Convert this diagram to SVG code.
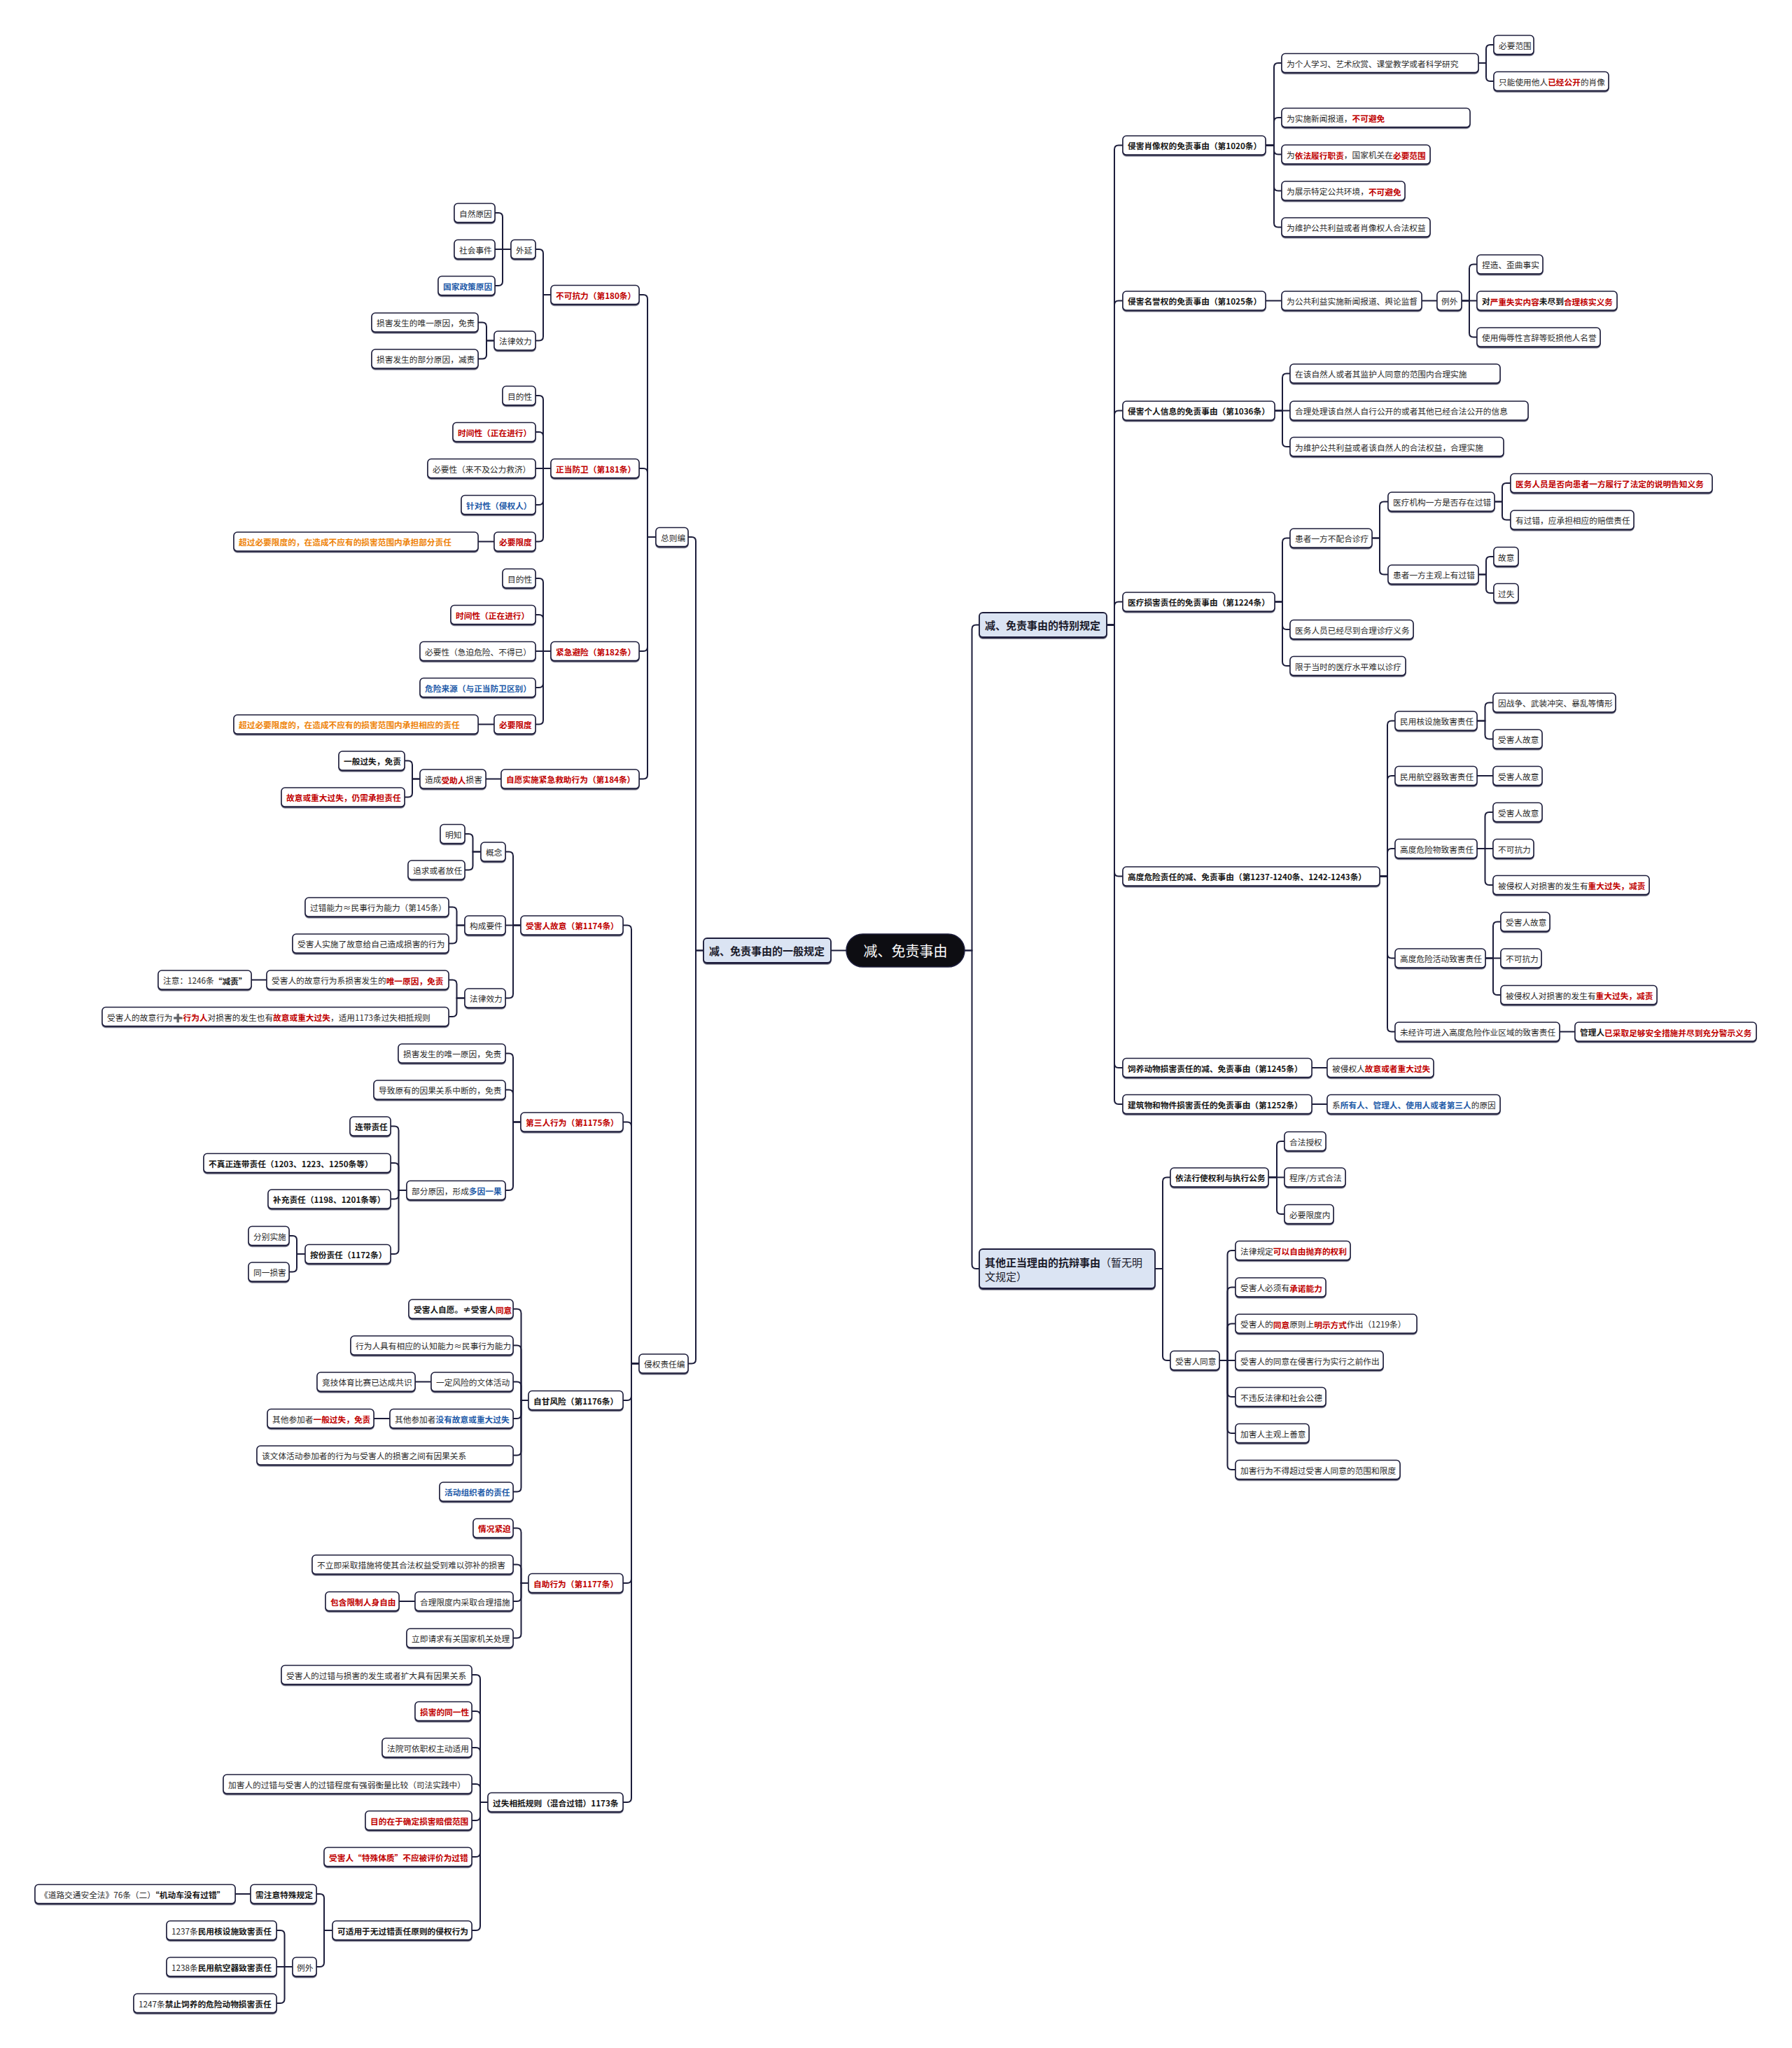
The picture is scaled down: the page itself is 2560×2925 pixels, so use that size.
<svg xmlns="http://www.w3.org/2000/svg" width="2560" height="2925" viewBox="0 0 2560 2925">
<defs>
<filter id="sh" x="-5%" y="-20%" width="110%" height="150%"><feDropShadow dx="0" dy="1.5" stdDeviation="0.3" flood-color="#1c1d3b" flood-opacity="0.9"/></filter>
<style>
.n{fill:#fff;stroke:#1c1d3b;stroke-width:1.5;filter:url(#sh)}
.m{fill:#dbe4f3;stroke:#1c1d3b;stroke-width:1.8;filter:url(#sh)}
text{font-family:"Noto Sans CJK SC","Noto Sans","DejaVu Sans",sans-serif;font-size:11.7px;fill:#2a2a2a;dominant-baseline:central}
.k{font-weight:bold;fill:#151515}
.r{font-weight:bold;fill:#c00000}
.u{font-weight:bold;fill:#1e5aa8}
.o{font-weight:bold;fill:#ee8208}
.mt{font-size:15px;font-weight:bold;fill:#1a1a2a}
.mn{font-weight:normal}
.c path{fill:none;stroke:#1c1d3b;stroke-width:2}
</style>
</defs>
<rect width="2560" height="2925" fill="#fff"/>
<g class="c" id="connectors">
<path d="M1209 1357.5H1187"/>
<path d="M1378 1357.5H1388.5V898.5Q1388.5 892.5 1394.5 892.5H1399"/>
<path d="M1378 1357.5H1388.5V1806Q1388.5 1812 1394.5 1812H1399"/>
<path d="M1581 892.5H1592V213.5Q1592 207.5 1598 207.5H1604"/>
<path d="M1581 892.5H1592V435.5Q1592 429.5 1598 429.5H1604"/>
<path d="M1581 892.5H1592V592.5Q1592 586.5 1598 586.5H1604"/>
<path d="M1581 892.5H1592V865.5Q1592 859.5 1598 859.5H1604"/>
<path d="M1581 892.5H1592V1245.5Q1592 1251.5 1598 1251.5H1604"/>
<path d="M1581 892.5H1592V1519Q1592 1525 1598 1525H1604"/>
<path d="M1581 892.5H1592V1571Q1592 1577 1598 1577H1604"/>
<path d="M1808 207.5H1820V96Q1820 90 1826 90H1831"/>
<path d="M1808 207.5H1820V174Q1820 168 1826 168H1831"/>
<path d="M1808 207.5H1820V214.5Q1820 220.5 1826 220.5H1831"/>
<path d="M1808 207.5H1820V266.5Q1820 272.5 1826 272.5H1831"/>
<path d="M1808 207.5H1820V318.5Q1820 324.5 1826 324.5H1831"/>
<path d="M2112 90H2123V70Q2123 64 2129 64H2134"/>
<path d="M2112 90H2123V110Q2123 116 2129 116H2134"/>
<path d="M1808 429.5H1831"/>
<path d="M2031 429.5H2053"/>
<path d="M2088 429.5H2099V383.5Q2099 377.5 2105 377.5H2110"/>
<path d="M2088 429.5H2110"/>
<path d="M2088 429.5H2099V475.5Q2099 481.5 2105 481.5H2110"/>
<path d="M1821 586.5H1832V539.5Q1832 533.5 1838 533.5H1843"/>
<path d="M1821 586.5H1843"/>
<path d="M1821 586.5H1832V632Q1832 638 1838 638H1843"/>
<path d="M1821 859.5H1832V774.5Q1832 768.5 1838 768.5H1843"/>
<path d="M1821 859.5H1832V893Q1832 899 1838 899H1843"/>
<path d="M1821 859.5H1832V945Q1832 951 1838 951H1843"/>
<path d="M1960 768.5H1971V722.5Q1971 716.5 1977 716.5H1983"/>
<path d="M1960 768.5H1971V814.5Q1971 820.5 1977 820.5H1983"/>
<path d="M2135 716.5H2146V696Q2146 690 2152 690H2158"/>
<path d="M2135 716.5H2146V736.5Q2146 742.5 2152 742.5H2158"/>
<path d="M2112 820.5H2123V801Q2123 795 2129 795H2134"/>
<path d="M2112 820.5H2123V841Q2123 847 2129 847H2134"/>
<path d="M1971 1251.5H1982V1035.5Q1982 1029.5 1988 1029.5H1993"/>
<path d="M1971 1251.5H1982V1114Q1982 1108 1988 1108H1993"/>
<path d="M1971 1251.5H1982V1218Q1982 1212 1988 1212H1993"/>
<path d="M1971 1251.5H1982V1362.5Q1982 1368.5 1988 1368.5H1993"/>
<path d="M1971 1251.5H1982V1467.5Q1982 1473.5 1988 1473.5H1993"/>
<path d="M2110 1029.5H2121.5V1009.5Q2121.5 1003.5 2127.5 1003.5H2133"/>
<path d="M2110 1029.5H2121.5V1049.5Q2121.5 1055.5 2127.5 1055.5H2133"/>
<path d="M2110 1108H2133"/>
<path d="M2110 1212H2121.5V1166Q2121.5 1160 2127.5 1160H2133"/>
<path d="M2110 1212H2133"/>
<path d="M2110 1212H2121.5V1258Q2121.5 1264 2127.5 1264H2133"/>
<path d="M2122 1368.5H2133V1322.5Q2133 1316.5 2139 1316.5H2144"/>
<path d="M2122 1368.5H2144"/>
<path d="M2122 1368.5H2133V1415Q2133 1421 2139 1421H2144"/>
<path d="M2228 1473.5H2250"/>
<path d="M1874 1525H1896"/>
<path d="M1874 1577H1896"/>
<path d="M1650 1812H1661V1687.5Q1661 1681.5 1667 1681.5H1672"/>
<path d="M1650 1812H1661V1937Q1661 1943 1667 1943H1672"/>
<path d="M1812 1681.5H1824V1636Q1824 1630 1830 1630H1835"/>
<path d="M1812 1681.5H1835"/>
<path d="M1812 1681.5H1824V1728Q1824 1734 1830 1734H1835"/>
<path d="M1742 1943H1753.5V1792Q1753.5 1786 1759.5 1786H1765"/>
<path d="M1742 1943H1753.5V1844.5Q1753.5 1838.5 1759.5 1838.5H1765"/>
<path d="M1742 1943H1753.5V1896.5Q1753.5 1890.5 1759.5 1890.5H1765"/>
<path d="M1742 1943H1765"/>
<path d="M1742 1943H1753.5V1989Q1753.5 1995 1759.5 1995H1765"/>
<path d="M1742 1943H1753.5V2041Q1753.5 2047 1759.5 2047H1765"/>
<path d="M1742 1943H1753.5V2093Q1753.5 2099 1759.5 2099H1765"/>
<path d="M1005 1357.5H994V773Q994 767 988 767H983"/>
<path d="M1005 1357.5H994V1941.5Q994 1947.5 988 1947.5H983"/>
<path d="M937 767H925V427Q925 421 919 421H913"/>
<path d="M937 767H925V675Q925 669 919 669H913"/>
<path d="M937 767H925V924Q925 930 919 930H913"/>
<path d="M937 767H925V1106.5Q925 1112.5 919 1112.5H913"/>
<path d="M787 421H776V362Q776 356 770 356H765"/>
<path d="M787 421H776V480.5Q776 486.5 770 486.5H765"/>
<path d="M730 356H718V310Q718 304 712 304H707"/>
<path d="M730 356H707"/>
<path d="M730 356H718V402Q718 408 712 408H707"/>
<path d="M706 486.5H695V466.5Q695 460.5 689 460.5H683"/>
<path d="M706 486.5H695V506.5Q695 512.5 689 512.5H683"/>
<path d="M787 669H776V571Q776 565 770 565H765"/>
<path d="M787 669H776V623Q776 617 770 617H765"/>
<path d="M787 669H765"/>
<path d="M787 669H776V715Q776 721 770 721H765"/>
<path d="M787 669H776V767.5Q776 773.5 770 773.5H765"/>
<path d="M706 773.5H683"/>
<path d="M787 930H776V832Q776 826 770 826H765"/>
<path d="M787 930H776V884Q776 878 770 878H765"/>
<path d="M787 930H765"/>
<path d="M787 930H776V976Q776 982 770 982H765"/>
<path d="M787 930H776V1028.5Q776 1034.5 770 1034.5H765"/>
<path d="M706 1034.5H683"/>
<path d="M716 1112.5H694"/>
<path d="M600 1112.5H589V1092.5Q589 1086.5 583 1086.5H578"/>
<path d="M600 1112.5H589V1132.5Q589 1138.5 583 1138.5H578"/>
<path d="M913 1947.5H902V1327.5Q902 1321.5 896 1321.5H890"/>
<path d="M913 1947.5H902V1608.5Q902 1602.5 896 1602.5H890"/>
<path d="M913 1947.5H902V1994Q902 2000 896 2000H890"/>
<path d="M913 1947.5H902V2255Q902 2261 896 2261H890"/>
<path d="M913 1947.5H902V2568Q902 2574 896 2574H890"/>
<path d="M744 1321.5H733V1222.5Q733 1216.5 727 1216.5H722"/>
<path d="M744 1321.5H722"/>
<path d="M744 1321.5H733V1419.5Q733 1425.5 727 1425.5H722"/>
<path d="M687 1216.5H675.5V1197Q675.5 1191 669.5 1191H664"/>
<path d="M687 1216.5H675.5V1236.5Q675.5 1242.5 669.5 1242.5H664"/>
<path d="M664 1321.5H652.5V1301.5Q652.5 1295.5 646.5 1295.5H641"/>
<path d="M664 1321.5H652.5V1341.5Q652.5 1347.5 646.5 1347.5H641"/>
<path d="M664 1425.5H652.5V1405.5Q652.5 1399.5 646.5 1399.5H641"/>
<path d="M664 1425.5H652.5V1446Q652.5 1452 646.5 1452H641"/>
<path d="M381 1399.5H359"/>
<path d="M744 1602.5H733V1510.5Q733 1504.5 727 1504.5H722"/>
<path d="M744 1602.5H733V1562.5Q733 1556.5 727 1556.5H722"/>
<path d="M744 1602.5H733V1694Q733 1700 727 1700H722"/>
<path d="M581 1700H569.5V1614.5Q569.5 1608.5 563.5 1608.5H558"/>
<path d="M581 1700H569.5V1667Q569.5 1661 563.5 1661H558"/>
<path d="M581 1700H569.5V1706.5Q569.5 1712.5 563.5 1712.5H558"/>
<path d="M581 1700H569.5V1785Q569.5 1791 563.5 1791H558"/>
<path d="M436 1791H424V1771Q424 1765 418 1765H413"/>
<path d="M436 1791H424V1810.5Q424 1816.5 418 1816.5H413"/>
<path d="M755 2000H744.5V1875.5Q744.5 1869.5 738.5 1869.5H733"/>
<path d="M755 2000H744.5V1927.5Q744.5 1921.5 738.5 1921.5H733"/>
<path d="M755 2000H744.5V1979.5Q744.5 1973.5 738.5 1973.5H733"/>
<path d="M755 2000H744.5V2020Q744.5 2026 738.5 2026H733"/>
<path d="M755 2000H744.5V2072.5Q744.5 2078.5 738.5 2078.5H733"/>
<path d="M755 2000H744.5V2124.5Q744.5 2130.5 738.5 2130.5H733"/>
<path d="M616 1973.5H593"/>
<path d="M557 2026H534"/>
<path d="M755 2261H744.5V2188.5Q744.5 2182.5 738.5 2182.5H733"/>
<path d="M755 2261H744.5V2240.5Q744.5 2234.5 738.5 2234.5H733"/>
<path d="M755 2261H744.5V2281Q744.5 2287 738.5 2287H733"/>
<path d="M755 2261H744.5V2333.5Q744.5 2339.5 738.5 2339.5H733"/>
<path d="M593 2287H570"/>
<path d="M697 2574H686V2398Q686 2392 680 2392H674"/>
<path d="M697 2574H686V2450Q686 2444 680 2444H674"/>
<path d="M697 2574H686V2502Q686 2496 680 2496H674"/>
<path d="M697 2574H686V2554Q686 2548 680 2548H674"/>
<path d="M697 2574H686V2594Q686 2600 680 2600H674"/>
<path d="M697 2574H686V2646Q686 2652 680 2652H674"/>
<path d="M697 2574H686V2751Q686 2757 680 2757H674"/>
<path d="M475 2757H463V2711Q463 2705 457 2705H452"/>
<path d="M475 2757H463V2803Q463 2809 457 2809H452"/>
<path d="M358 2705H336"/>
<path d="M418 2809H406.5V2763Q406.5 2757 400.5 2757H395"/>
<path d="M418 2809H395"/>
<path d="M418 2809H406.5V2855Q406.5 2861 400.5 2861H395"/>
</g>
<g id="root"><rect x="1209" y="1334" width="169" height="47" rx="23.5" fill="#0d0d12" stroke="#1c1d3b" stroke-width="1.5"/><text x="1293.5" y="1357.5" text-anchor="middle" style="font-size:20px;fill:#fff">减、免责事由</text></g>
<g id="main-general"><rect class="m" x="1005" y="1340" width="182" height="35" rx="5"/><text class="mt" x="1013" y="1357.5">减、免责事由的一般规定</text></g>
<g id="main-special"><rect class="m" x="1399" y="875" width="182" height="35" rx="5"/><text class="mt" x="1407" y="892.5">减、免责事由的特别规定</text></g>
<g id="main-other"><rect class="m" x="1399" y="1784" width="251" height="56" rx="5"/><text class="mt" x="1407" y="1802">其他正当理由的抗辩事由<tspan class="mn">（暂无明</tspan></text><text class="mt" x="1407" y="1822"><tspan class="mn">文规定）</tspan></text></g>
<g id="L1"><rect class="n" x="937" y="753.5" width="46" height="27" rx="5"/><text x="944" y="767">总则编</text></g>
<g id="L2"><rect class="n" x="913" y="1934" width="70" height="27" rx="5"/><text x="920" y="1947.5">侵权责任编</text></g>
<g id="L3"><rect class="n" x="787" y="407.5" width="126" height="27" rx="5"/><text class="r" x="794" y="421">不可抗力（第180条）</text></g>
<g id="L4"><rect class="n" x="787" y="655.5" width="126" height="27" rx="5"/><text class="r" x="794" y="669">正当防卫（第181条）</text></g>
<g id="L5"><rect class="n" x="787" y="916.5" width="126" height="27" rx="5"/><text class="r" x="794" y="930">紧急避险（第182条）</text></g>
<g id="L6"><rect class="n" x="716" y="1099" width="197" height="27" rx="5"/><text class="r" x="723" y="1112.5">自愿实施紧急救助行为（第184条）</text></g>
<g id="L7"><rect class="n" x="730" y="342.5" width="35" height="27" rx="5"/><text x="737" y="356">外延</text></g>
<g id="L8"><rect class="n" x="706" y="473" width="59" height="27" rx="5"/><text x="713" y="486.5">法律效力</text></g>
<g id="L9"><rect class="n" x="649" y="290.5" width="58" height="27" rx="5"/><text x="656" y="304">自然原因</text></g>
<g id="L10"><rect class="n" x="649" y="342.5" width="58" height="27" rx="5"/><text x="656" y="356">社会事件</text></g>
<g id="L11"><rect class="n" x="626" y="394.5" width="81" height="27" rx="5"/><text class="u" x="633" y="408">国家政策原因</text></g>
<g id="L12"><rect class="n" x="531" y="447" width="152" height="27" rx="5"/><text x="538" y="460.5">损害发生的唯一原因，免责</text></g>
<g id="L13"><rect class="n" x="531" y="499" width="152" height="27" rx="5"/><text x="538" y="512.5">损害发生的部分原因，减责</text></g>
<g id="L14"><rect class="n" x="718" y="551.5" width="47" height="27" rx="5"/><text x="725" y="565">目的性</text></g>
<g id="L15"><rect class="n" x="647" y="603.5" width="118" height="27" rx="5"/><text class="r" x="654" y="617">时间性（正在进行）</text></g>
<g id="L16"><rect class="n" x="611" y="655.5" width="154" height="27" rx="5"/><text x="618" y="669">必要性（来不及公力救济）</text></g>
<g id="L17"><rect class="n" x="659" y="707.5" width="106" height="27" rx="5"/><text class="u" x="666" y="721">针对性（侵权人）</text></g>
<g id="L18"><rect class="n" x="706" y="760" width="59" height="27" rx="5"/><text class="r" x="713" y="773.5">必要限度</text></g>
<g id="L19"><rect class="n" x="334" y="760" width="349" height="27" rx="5"/><text class="o" x="341" y="773.5">超过必要限度的，在造成不应有的损害范围内承担部分责任</text></g>
<g id="L20"><rect class="n" x="718" y="812.5" width="47" height="27" rx="5"/><text x="725" y="826">目的性</text></g>
<g id="L21"><rect class="n" x="644" y="864.5" width="121" height="27" rx="5"/><text class="r" x="651" y="878">时间性（正在进行）</text></g>
<g id="L22"><rect class="n" x="600" y="916.5" width="165" height="27" rx="5"/><text x="607" y="930">必要性（急迫危险、不得已）</text></g>
<g id="L23"><rect class="n" x="600" y="968.5" width="165" height="27" rx="5"/><text class="u" x="607" y="982">危险来源（与正当防卫区别）</text></g>
<g id="L24"><rect class="n" x="706" y="1021" width="59" height="27" rx="5"/><text class="r" x="713" y="1034.5">必要限度</text></g>
<g id="L25"><rect class="n" x="334" y="1021" width="349" height="27" rx="5"/><text class="o" x="341" y="1034.5">超过必要限度的，在造成不应有的损害范围内承担相应的责任</text></g>
<g id="L26"><rect class="n" x="600" y="1099" width="94" height="27" rx="5"/><text x="607" y="1112.5">造成<tspan class="r">受助人</tspan>损害</text></g>
<g id="L27"><rect class="n" x="484" y="1073" width="94" height="27" rx="5"/><text class="k" x="491" y="1086.5">一般过失，免责</text></g>
<g id="L28"><rect class="n" x="402" y="1125" width="176" height="27" rx="5"/><text class="r" x="409" y="1138.5">故意或重大过失，仍需承担责任</text></g>
<g id="L29"><rect class="n" x="744" y="1308" width="146" height="27" rx="5"/><text class="r" x="751" y="1321.5">受害人故意（第1174条）</text></g>
<g id="L30"><rect class="n" x="744" y="1589" width="146" height="27" rx="5"/><text class="r" x="751" y="1602.5">第三人行为（第1175条）</text></g>
<g id="L31"><rect class="n" x="755" y="1986.5" width="135" height="27" rx="5"/><text class="k" x="762" y="2000">自甘风险（第1176条）</text></g>
<g id="L32"><rect class="n" x="755" y="2247.5" width="135" height="27" rx="5"/><text class="r" x="762" y="2261">自助行为（第1177条）</text></g>
<g id="L33"><rect class="n" x="697" y="2560.5" width="193" height="27" rx="5"/><text class="k" x="704" y="2574">过失相抵规则（混合过错）1173条</text></g>
<g id="L34"><rect class="n" x="687" y="1203" width="35" height="27" rx="5"/><text x="694" y="1216.5">概念</text></g>
<g id="L35"><rect class="n" x="664" y="1308" width="58" height="27" rx="5"/><text x="671" y="1321.5">构成要件</text></g>
<g id="L36"><rect class="n" x="664" y="1412" width="58" height="27" rx="5"/><text x="671" y="1425.5">法律效力</text></g>
<g id="L37"><rect class="n" x="629" y="1177.5" width="35" height="27" rx="5"/><text x="636" y="1191">明知</text></g>
<g id="L38"><rect class="n" x="583" y="1229" width="81" height="27" rx="5"/><text x="590" y="1242.5">追求或者放任</text></g>
<g id="L39"><rect class="n" x="436" y="1282" width="205" height="27" rx="5"/><text x="443" y="1295.5">过错能力≈民事行为能力（第145条）</text></g>
<g id="L40"><rect class="n" x="418" y="1334" width="223" height="27" rx="5"/><text x="425" y="1347.5">受害人实施了故意给自己造成损害的行为</text></g>
<g id="L41"><rect class="n" x="381" y="1386" width="260" height="27" rx="5"/><text x="388" y="1399.5">受害人的故意行为系损害发生的<tspan class="r">唯一原因，免责</tspan></text></g>
<g id="L42"><rect class="n" x="226" y="1386" width="133" height="27" rx="5"/><text x="233" y="1399.5">注意：1246条<tspan class="k">“减责”</tspan></text></g>
<g id="L43"><rect class="n" x="146" y="1438.5" width="495" height="27" rx="5"/><text x="153" y="1452">受害人的故意行为<tspan class="k">➕</tspan><tspan class="r">行为人</tspan>对损害的发生也有<tspan class="r">故意或重大过失</tspan>，适用1173条过失相抵规则</text></g>
<g id="L44"><rect class="n" x="569" y="1491" width="153" height="27" rx="5"/><text x="576" y="1504.5">损害发生的唯一原因，免责</text></g>
<g id="L45"><rect class="n" x="534" y="1543" width="188" height="27" rx="5"/><text x="541" y="1556.5">导致原有的因果关系中断的，免责</text></g>
<g id="L46"><rect class="n" x="581" y="1686.5" width="141" height="27" rx="5"/><text x="588" y="1700">部分原因，形成<tspan class="u">多因一果</tspan></text></g>
<g id="L47"><rect class="n" x="500" y="1595" width="58" height="27" rx="5"/><text class="k" x="507" y="1608.5">连带责任</text></g>
<g id="L48"><rect class="n" x="291" y="1647.5" width="267" height="27" rx="5"/><text class="k" x="298" y="1661">不真正连带责任（1203、1223、1250条等）</text></g>
<g id="L49"><rect class="n" x="383" y="1699" width="175" height="27" rx="5"/><text class="k" x="390" y="1712.5">补充责任（1198、1201条等）</text></g>
<g id="L50"><rect class="n" x="436" y="1777.5" width="122" height="27" rx="5"/><text class="k" x="443" y="1791">按份责任（1172条）</text></g>
<g id="L51"><rect class="n" x="355" y="1751.5" width="58" height="27" rx="5"/><text x="362" y="1765">分别实施</text></g>
<g id="L52"><rect class="n" x="355" y="1803" width="58" height="27" rx="5"/><text x="362" y="1816.5">同一损害</text></g>
<g id="L53"><rect class="n" x="584" y="1856" width="149" height="27" rx="5"/><text class="k" x="591" y="1869.5">受害人自愿。≠受害人<tspan class="r">同意</tspan></text></g>
<g id="L54"><rect class="n" x="501" y="1908" width="232" height="27" rx="5"/><text x="508" y="1921.5">行为人具有相应的认知能力≈民事行为能力</text></g>
<g id="L55"><rect class="n" x="616" y="1960" width="117" height="27" rx="5"/><text x="623" y="1973.5">一定风险的文体活动</text></g>
<g id="L56"><rect class="n" x="453" y="1960" width="140" height="27" rx="5"/><text x="460" y="1973.5">竞技体育比赛已达成共识</text></g>
<g id="L57"><rect class="n" x="557" y="2012.5" width="176" height="27" rx="5"/><text x="564" y="2026">其他参加者<tspan class="u">没有故意或重大过失</tspan></text></g>
<g id="L58"><rect class="n" x="382" y="2012.5" width="152" height="27" rx="5"/><text x="389" y="2026">其他参加者<tspan class="r">一般过失，免责</tspan></text></g>
<g id="L59"><rect class="n" x="367" y="2065" width="366" height="27" rx="5"/><text x="374" y="2078.5">该文体活动参加者的行为与受害人的损害之间有因果关系</text></g>
<g id="L60"><rect class="n" x="628" y="2117" width="105" height="27" rx="5"/><text class="u" x="635" y="2130.5">活动组织者的责任</text></g>
<g id="L61"><rect class="n" x="676" y="2169" width="57" height="27" rx="5"/><text class="r" x="683" y="2182.5">情况紧迫</text></g>
<g id="L62"><rect class="n" x="446" y="2221" width="287" height="27" rx="5"/><text x="453" y="2234.5">不立即采取措施将使其合法权益受到难以弥补的损害</text></g>
<g id="L63"><rect class="n" x="593" y="2273.5" width="140" height="27" rx="5"/><text x="600" y="2287">合理限度内采取合理措施</text></g>
<g id="L64"><rect class="n" x="465" y="2273.5" width="105" height="27" rx="5"/><text class="r" x="472" y="2287">包含限制人身自由</text></g>
<g id="L65"><rect class="n" x="581" y="2326" width="152" height="27" rx="5"/><text x="588" y="2339.5">立即请求有关国家机关处理</text></g>
<g id="L66"><rect class="n" x="402" y="2378.5" width="272" height="27" rx="5"/><text x="409" y="2392">受害人的过错与损害的发生或者扩大具有因果关系</text></g>
<g id="L67"><rect class="n" x="593" y="2430.5" width="81" height="27" rx="5"/><text class="r" x="600" y="2444">损害的同一性</text></g>
<g id="L68"><rect class="n" x="546" y="2482.5" width="128" height="27" rx="5"/><text x="553" y="2496">法院可依职权主动适用</text></g>
<g id="L69"><rect class="n" x="319" y="2534.5" width="355" height="27" rx="5"/><text x="326" y="2548">加害人的过错与受害人的过错程度有强弱衡量比较（司法实践中）</text></g>
<g id="L70"><rect class="n" x="522" y="2586.5" width="152" height="27" rx="5"/><text class="r" x="529" y="2600">目的在于确定损害赔偿范围</text></g>
<g id="L71"><rect class="n" x="463" y="2638.5" width="211" height="27" rx="5"/><text class="r" x="470" y="2652">受害人“特殊体质”不应被评价为过错</text></g>
<g id="L72"><rect class="n" x="475" y="2743.5" width="199" height="27" rx="5"/><text class="k" x="482" y="2757">可适用于无过错责任原则的侵权行为</text></g>
<g id="L73"><rect class="n" x="358" y="2691.5" width="94" height="27" rx="5"/><text class="k" x="365" y="2705">需注意特殊规定</text></g>
<g id="L74"><rect class="n" x="50" y="2691.5" width="286" height="27" rx="5"/><text x="57" y="2705">《道路交通安全法》76条（二）<tspan class="k">“机动车没有过错”</tspan></text></g>
<g id="L75"><rect class="n" x="418" y="2795.5" width="34" height="27" rx="5"/><text x="424" y="2809">例外</text></g>
<g id="L76"><rect class="n" x="238" y="2743.5" width="157" height="27" rx="5"/><text x="245" y="2757">1237条<tspan class="k">民用核设施致害责任</tspan></text></g>
<g id="L77"><rect class="n" x="238" y="2795.5" width="157" height="27" rx="5"/><text x="245" y="2809">1238条<tspan class="k">民用航空器致害责任</tspan></text></g>
<g id="L78"><rect class="n" x="191" y="2847.5" width="204" height="27" rx="5"/><text x="198" y="2861">1247条<tspan class="k">禁止饲养的危险动物损害责任</tspan></text></g>
<g id="R1"><rect class="n" x="1604" y="194" width="204" height="27" rx="5"/><text class="k" x="1611" y="207.5">侵害肖像权的免责事由（第1020条）</text></g>
<g id="R2"><rect class="n" x="1604" y="416" width="204" height="27" rx="5"/><text class="k" x="1611" y="429.5">侵害名誉权的免责事由（第1025条）</text></g>
<g id="R3"><rect class="n" x="1604" y="573" width="217" height="27" rx="5"/><text class="k" x="1611" y="586.5">侵害个人信息的免责事由（第1036条）</text></g>
<g id="R4"><rect class="n" x="1604" y="846" width="217" height="27" rx="5"/><text class="k" x="1611" y="859.5">医疗损害责任的免责事由（第1224条）</text></g>
<g id="R5"><rect class="n" x="1604" y="1238" width="367" height="27" rx="5"/><text class="k" x="1611" y="1251.5">高度危险责任的减、免责事由（第1237-1240条、1242-1243条）</text></g>
<g id="R6"><rect class="n" x="1604" y="1511.5" width="270" height="27" rx="5"/><text class="k" x="1611" y="1525">饲养动物损害责任的减、免责事由（第1245条）</text></g>
<g id="R7"><rect class="n" x="1604" y="1563.5" width="270" height="27" rx="5"/><text class="k" x="1611" y="1577">建筑物和物件损害责任的免责事由（第1252条）</text></g>
<g id="R8"><rect class="n" x="1831" y="76.5" width="281" height="27" rx="5"/><text x="1838" y="90">为个人学习、艺术欣赏、课堂教学或者科学研究</text></g>
<g id="R9"><rect class="n" x="2134" y="50.5" width="57" height="27" rx="5"/><text x="2141" y="64">必要范围</text></g>
<g id="R10"><rect class="n" x="2134" y="102.5" width="164" height="27" rx="5"/><text x="2141" y="116">只能使用他人<tspan class="r">已经公开</tspan>的肖像</text></g>
<g id="R11"><rect class="n" x="1831" y="154.5" width="269" height="27" rx="5"/><text x="1838" y="168">为实施新闻报道，<tspan class="r">不可避免</tspan></text></g>
<g id="R12"><rect class="n" x="1831" y="207" width="212" height="27" rx="5"/><text x="1838" y="220.5">为<tspan class="r">依法履行职责</tspan>，国家机关在<tspan class="r">必要范围</tspan></text></g>
<g id="R13"><rect class="n" x="1831" y="259" width="176" height="27" rx="5"/><text x="1838" y="272.5">为展示特定公共环境，<tspan class="r">不可避免</tspan></text></g>
<g id="R14"><rect class="n" x="1831" y="311" width="212" height="27" rx="5"/><text x="1838" y="324.5">为维护公共利益或者肖像权人合法权益</text></g>
<g id="R15"><rect class="n" x="1831" y="416" width="200" height="27" rx="5"/><text x="1838" y="429.5">为公共利益实施新闻报道、舆论监督</text></g>
<g id="R16"><rect class="n" x="2053" y="416" width="35" height="27" rx="5"/><text x="2059" y="429.5">例外</text></g>
<g id="R17"><rect class="n" x="2110" y="364" width="94" height="27" rx="5"/><text x="2117" y="377.5">捏造、歪曲事实</text></g>
<g id="R18"><rect class="n" x="2110" y="416" width="200" height="27" rx="5"/><text class="k" x="2117" y="429.5">对<tspan class="r">严重失实内容</tspan>未尽到<tspan class="r">合理核实义务</tspan></text></g>
<g id="R19"><rect class="n" x="2110" y="468" width="176" height="27" rx="5"/><text x="2117" y="481.5">使用侮辱性言辞等贬损他人名誉</text></g>
<g id="R20"><rect class="n" x="1843" y="520" width="300" height="27" rx="5"/><text x="1850" y="533.5">在该自然人或者其监护人同意的范围内合理实施</text></g>
<g id="R21"><rect class="n" x="1843" y="573" width="340" height="27" rx="5"/><text x="1850" y="586.5">合理处理该自然人自行公开的或者其他已经合法公开的信息</text></g>
<g id="R22"><rect class="n" x="1843" y="624.5" width="305" height="27" rx="5"/><text x="1850" y="638">为维护公共利益或者该自然人的合法权益，合理实施</text></g>
<g id="R23"><rect class="n" x="1843" y="755" width="117" height="27" rx="5"/><text x="1850" y="768.5">患者一方不配合诊疗</text></g>
<g id="R24"><rect class="n" x="1983" y="703" width="152" height="27" rx="5"/><text x="1990" y="716.5">医疗机构一方是否存在过错</text></g>
<g id="R25"><rect class="n" x="2158" y="676.5" width="288" height="27" rx="5"/><text class="r" x="2165" y="690">医务人员是否向患者一方履行了法定的说明告知义务</text></g>
<g id="R26"><rect class="n" x="2158" y="729" width="176" height="27" rx="5"/><text x="2165" y="742.5">有过错，应承担相应的赔偿责任</text></g>
<g id="R27"><rect class="n" x="1983" y="807" width="129" height="27" rx="5"/><text x="1990" y="820.5">患者一方主观上有过错</text></g>
<g id="R28"><rect class="n" x="2134" y="781.5" width="35" height="27" rx="5"/><text x="2140" y="795">故意</text></g>
<g id="R29"><rect class="n" x="2134" y="833.5" width="35" height="27" rx="5"/><text x="2140" y="847">过失</text></g>
<g id="R30"><rect class="n" x="1843" y="885.5" width="176" height="27" rx="5"/><text x="1850" y="899">医务人员已经尽到合理诊疗义务</text></g>
<g id="R31"><rect class="n" x="1843" y="937.5" width="165" height="27" rx="5"/><text x="1850" y="951">限于当时的医疗水平难以诊疗</text></g>
<g id="R32"><rect class="n" x="1993" y="1016" width="117" height="27" rx="5"/><text x="2000" y="1029.5">民用核设施致害责任</text></g>
<g id="R33"><rect class="n" x="2133" y="990" width="175" height="27" rx="5"/><text x="2140" y="1003.5">因战争、武装冲突、暴乱等情形</text></g>
<g id="R34"><rect class="n" x="2133" y="1042" width="70" height="27" rx="5"/><text x="2140" y="1055.5">受害人故意</text></g>
<g id="R35"><rect class="n" x="1993" y="1094.5" width="117" height="27" rx="5"/><text x="2000" y="1108">民用航空器致害责任</text></g>
<g id="R36"><rect class="n" x="2133" y="1094.5" width="70" height="27" rx="5"/><text x="2140" y="1108">受害人故意</text></g>
<g id="R37"><rect class="n" x="1993" y="1198.5" width="117" height="27" rx="5"/><text x="2000" y="1212">高度危险物致害责任</text></g>
<g id="R38"><rect class="n" x="2133" y="1146.5" width="70" height="27" rx="5"/><text x="2140" y="1160">受害人故意</text></g>
<g id="R39"><rect class="n" x="2133" y="1198.5" width="58" height="27" rx="5"/><text x="2140" y="1212">不可抗力</text></g>
<g id="R40"><rect class="n" x="2133" y="1250.5" width="223" height="27" rx="5"/><text x="2140" y="1264">被侵权人对损害的发生有<tspan class="r">重大过失，减责</tspan></text></g>
<g id="R41"><rect class="n" x="1993" y="1355" width="129" height="27" rx="5"/><text x="2000" y="1368.5">高度危险活动致害责任</text></g>
<g id="R42"><rect class="n" x="2144" y="1303" width="70" height="27" rx="5"/><text x="2151" y="1316.5">受害人故意</text></g>
<g id="R43"><rect class="n" x="2144" y="1355" width="58" height="27" rx="5"/><text x="2151" y="1368.5">不可抗力</text></g>
<g id="R44"><rect class="n" x="2144" y="1407.5" width="223" height="27" rx="5"/><text x="2151" y="1421">被侵权人对损害的发生有<tspan class="r">重大过失，减责</tspan></text></g>
<g id="R45"><rect class="n" x="1993" y="1460" width="235" height="27" rx="5"/><text x="2000" y="1473.5">未经许可进入高度危险作业区域的致害责任</text></g>
<g id="R46"><rect class="n" x="2250" y="1460" width="259" height="27" rx="5"/><text class="k" x="2257" y="1473.5">管理人<tspan class="r">已采取足够安全措施并尽到充分警示义务</tspan></text></g>
<g id="R47"><rect class="n" x="1896" y="1511.5" width="152" height="27" rx="5"/><text x="1903" y="1525">被侵权人<tspan class="r">故意或者重大过失</tspan></text></g>
<g id="R48"><rect class="n" x="1896" y="1563.5" width="247" height="27" rx="5"/><text x="1903" y="1577">系<tspan class="u">所有人、管理人、使用人或者第三人</tspan>的原因</text></g>
<g id="R49"><rect class="n" x="1672" y="1668" width="140" height="27" rx="5"/><text class="k" x="1679" y="1681.5">依法行使权利与执行公务</text></g>
<g id="R50"><rect class="n" x="1835" y="1616.5" width="59" height="27" rx="5"/><text x="1842" y="1630">合法授权</text></g>
<g id="R51"><rect class="n" x="1835" y="1668" width="87" height="27" rx="5"/><text x="1842" y="1681.5">程序/方式合法</text></g>
<g id="R52"><rect class="n" x="1835" y="1720.5" width="70" height="27" rx="5"/><text x="1842" y="1734">必要限度内</text></g>
<g id="R53"><rect class="n" x="1672" y="1929.5" width="70" height="27" rx="5"/><text x="1679" y="1943">受害人同意</text></g>
<g id="R54"><rect class="n" x="1765" y="1772.5" width="164" height="27" rx="5"/><text x="1772" y="1786">法律规定<tspan class="r">可以自由抛弃的权利</tspan></text></g>
<g id="R55"><rect class="n" x="1765" y="1825" width="129" height="27" rx="5"/><text x="1772" y="1838.5">受害人必须有<tspan class="r">承诺能力</tspan></text></g>
<g id="R56"><rect class="n" x="1765" y="1877" width="259" height="27" rx="5"/><text x="1772" y="1890.5">受害人的<tspan class="r">同意</tspan>原则上<tspan class="r">明示方式</tspan>作出（1219条）</text></g>
<g id="R57"><rect class="n" x="1765" y="1929.5" width="211" height="27" rx="5"/><text x="1772" y="1943">受害人的同意在侵害行为实行之前作出</text></g>
<g id="R58"><rect class="n" x="1765" y="1981.5" width="129" height="27" rx="5"/><text x="1772" y="1995">不违反法律和社会公德</text></g>
<g id="R59"><rect class="n" x="1765" y="2033.5" width="105" height="27" rx="5"/><text x="1772" y="2047">加害人主观上善意</text></g>
<g id="R60"><rect class="n" x="1765" y="2085.5" width="235" height="27" rx="5"/><text x="1772" y="2099">加害行为不得超过受害人同意的范围和限度</text></g>
</svg>
